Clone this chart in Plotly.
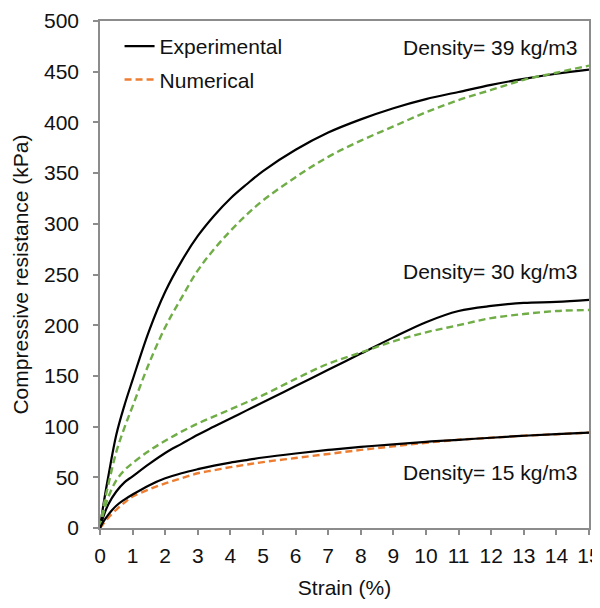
import plotly.graph_objects as go

# Strain (%) sample points
strain = [0, 0.1, 0.25, 0.5, 0.75, 1, 1.5, 2, 2.5, 3, 3.5, 4, 4.5, 5, 6, 7, 8, 9, 10, 11, 12, 13, 14, 15]

# Density 39 kg/m3
exp39 = [0, 22, 50, 92, 121, 146, 194, 233, 263, 288, 308, 325, 339, 352, 373, 390, 403, 414, 423, 430, 437, 443, 448, 452]
num39 = [0, 20, 42, 75, 99, 120, 162, 198, 227, 254, 275, 293, 309, 323, 346, 366, 382, 396, 410, 422, 432, 442, 449, 456]

# Density 30 kg/m3
exp30 = [0, 11, 23, 36, 45, 51, 63, 74, 83, 92, 100, 108, 116, 124, 140, 156, 172, 188, 203, 214, 219, 222, 223, 225]
num30 = [0, 14, 30, 47, 57, 64, 76, 86, 95, 103, 110, 117, 124, 131, 147, 162, 173, 184, 193, 200, 207, 211, 214, 215]

# Density 15 kg/m3
exp15 = [0, 6, 13, 22, 28, 33, 42, 49, 54, 58, 61.5, 64.5, 67, 69.5, 73.5, 77, 80, 82.5, 85, 87, 89, 91, 92.5, 94]
num15 = [0, 4, 10, 18, 25, 31, 38, 44, 49, 54, 57, 60, 62.5, 65, 69, 73, 77, 80.5, 84, 87, 89, 91, 92.5, 94]

labels = ["Density= 39 kg/m3", "Density= 30 kg/m3", "Density= 15 kg/m3"]
label_x = [14.72, 14.72, 14.72]
label_y = [474, 253, 55]

BLACK = "#000000"
GREEN = "#70AD47"
ORANGE = "#ED7D31"
FONT = "Liberation Sans, Arial, sans-serif"
TXT = "#111111"

fig = go.Figure()

def add(y, color, dash, name, show, group):
    fig.add_trace(go.Scatter(
        x=strain, y=y, mode="lines", name=name, showlegend=show, legendgroup=group,
        line=dict(color=color, width=2.2 if dash == "solid" else 2.4, dash=dash, shape="spline", smoothing=1.0),
    ))

add(exp39, BLACK, "solid", "Experimental", True, "a")
add(num15, ORANGE, "7px,4px", "Numerical", True, "b")
add(num39, GREEN, "7px,4px", "Numerical 39", False, "c")
add(exp30, BLACK, "solid", "Experimental 30", False, "d")
add(num30, GREEN, "7px,4px", "Numerical 30", False, "e")
add(exp15, BLACK, "solid", "Experimental 15", False, "f")

for t, xx, yy in zip(labels, label_x, label_y):
    fig.add_annotation(x=xx, y=yy, text=t, showarrow=False, xanchor="right", yanchor="middle",
                       font=dict(family=FONT, size=21, color=TXT))

axis_common = dict(
    showgrid=False, zeroline=False, showline=True, linecolor="#8c8c8c", linewidth=1.5,
    mirror=True, ticks="outside", ticklen=5, tickcolor="#8c8c8c", tickwidth=1.5,
    tickfont=dict(family=FONT, size=21, color=TXT), automargin=False,
)

fig.update_xaxes(range=[0, 15], tickmode="linear", tick0=0, dtick=1, ticklabelstandoff=3,
                 title=dict(text="Strain (%)", font=dict(family=FONT, size=21, color=TXT), standoff=14),
                 **axis_common)
fig.update_yaxes(range=[0, 500], tickmode="linear", tick0=0, dtick=50, ticklabelstandoff=10,
                 title=dict(text="Compressive resistance (kPa)", font=dict(family=FONT, size=21, color=TXT), standoff=10),
                 **axis_common)

# page body adds an 8px offset; margins compensate so the plot lands at 100..589 x 21..528
fig.update_layout(
    width=600, height=608,
    margin=dict(l=92, r=19, t=13, b=88),
    paper_bgcolor="white", plot_bgcolor="white",
    legend=dict(x=0.04, y=0.99, xanchor="left", yanchor="top", bgcolor="rgba(0,0,0,0)",
                font=dict(family=FONT, size=21, color=TXT), tracegroupgap=3, itemwidth=30),
)

fig.write_html("out.html")
